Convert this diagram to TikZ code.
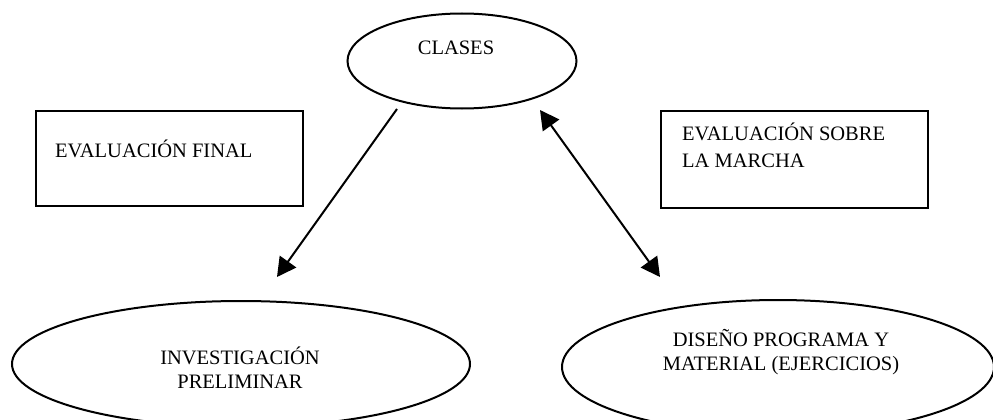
\documentclass[tikz,border=0pt]{standalone}
\usepackage{fontspec}
\setmainfont{Liberation Serif}
\usetikzlibrary{shapes.geometric,arrows.meta}
\begin{document}
\begin{tikzpicture}[x=1pt,y=-1pt,
  every node/.style={font=\fontsize{20.5}{23.6}\selectfont},
  oval/.style={draw,ellipse,line width=2pt,inner sep=0pt},
  frame/.style={draw,rectangle,line width=2pt,inner sep=0pt,anchor=north west},
  txt/.style={inner sep=0pt},
  conn/.style={line width=2pt,-{Triangle[length=19pt,width=20pt]}},
  dconn/.style={line width=2pt,{Triangle[length=19pt,width=20pt]}-{Triangle[length=19pt,width=20pt]}}
]
\useasboundingbox (0,0) rectangle (993,420);
\clip (0,0) rectangle (993,420);
% ellipses
\node[oval,minimum width=229pt,minimum height=95pt] (clases) at (462,61) {};
\node[txt,anchor=base] (clasest) at (456,55) {CLASES};
\node[oval,minimum width=458pt,minimum height=126pt] (inv) at (241,364) {};
\node[txt,anchor=base,align=center] (invt) at (240,388) {INVESTIGACIÓN\\PRELIMINAR};
\node[oval,minimum width=432pt,minimum height=134pt] (dis) at (778,367) {};
\node[txt,anchor=base,align=center] (dist) at (781,370) {DISEÑO PROGRAMA Y\\MATERIAL (EJERCICIOS)};
% boxes
\node[frame,minimum width=267pt,minimum height=95pt] (fin) at (35,110) {};
\node[txt,anchor=base west] (fint) at (55,157) {EVALUACIÓN FINAL};
\node[frame,minimum width=267pt,minimum height=97pt] (mar) at (660,110) {};
\node[txt,anchor=base west,align=left] (mart) at (682,167) {EVALUACIÓN SOBRE\\[3pt]LA MARCHA};
% connectors
\coordinate (a1) at (397,109);
\coordinate (a2) at (277,277);
\coordinate (b1) at (540,110);
\coordinate (b2) at (660,277);
\draw[conn] (a1) -- (a2);
\draw[dconn] (b1) -- (b2);
\end{tikzpicture}
\end{document}
